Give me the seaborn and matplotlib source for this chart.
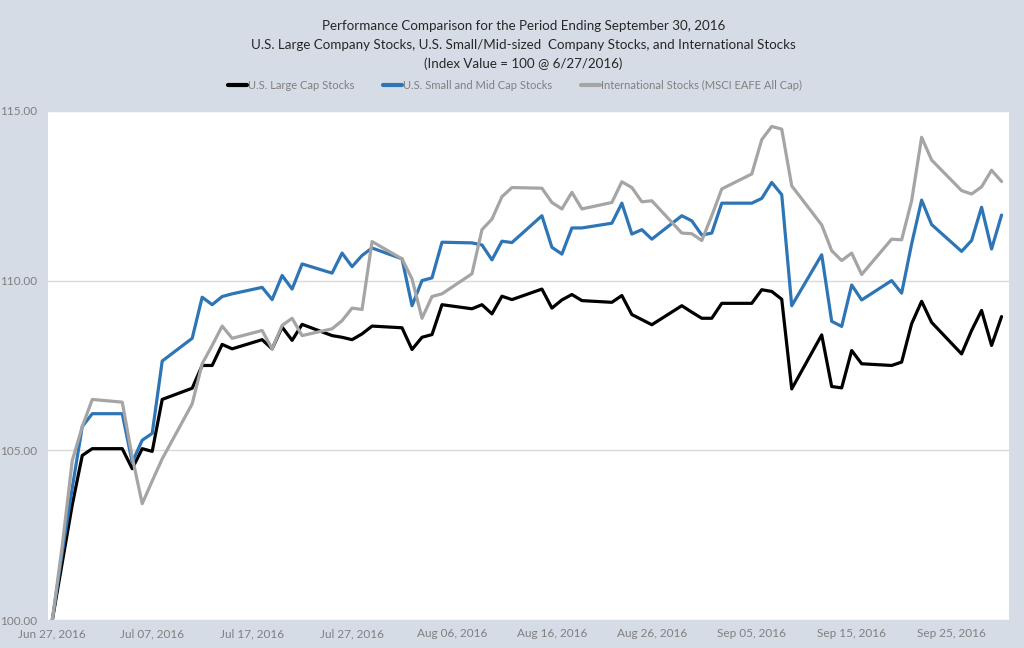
import numpy as np
import pandas as pd
import seaborn as sns
import matplotlib.pyplot as plt
import matplotlib.dates as mdates

# trading weekdays, holidays carry the previous value
dates = pd.bdate_range('2016-06-27', '2016-09-30')

large_cap = [100.0, 101.7, 103.4, 104.85, 105.05,
             105.05, 104.46, 105.05, 104.97, 106.5,
             106.83, 107.5, 107.5, 108.12, 107.99,
             108.26, 107.99, 108.63, 108.24, 108.71,
             108.38, 108.33, 108.26, 108.43, 108.66,
             108.61, 107.97, 108.33, 108.41, 109.29,
             109.17, 109.29, 109.02, 109.54, 109.44,
             109.75, 109.19, 109.43, 109.59, 109.41,
             109.36, 109.56, 109.0, 108.85, 108.7,
             109.26, 109.07, 108.89, 108.89, 109.33,
             109.33, 109.73, 109.68, 109.45, 106.81,
             108.4, 106.88, 106.84, 107.94, 107.55,
             107.5, 107.6, 108.73, 109.39, 108.77,
             107.84, 108.53, 109.12, 108.09, 108.94]

small_mid = [100.0, 102.0, 103.9, 105.7, 106.08,
             106.08, 104.65, 105.3, 105.5, 107.63,
             108.3, 109.51, 109.29, 109.53, 109.61,
             109.8, 109.44, 110.15, 109.75, 110.49,
             110.22, 110.81, 110.41, 110.74, 110.96,
             110.64, 109.26, 110.0, 110.08, 111.13,
             111.11, 111.05, 110.61, 111.16, 111.12,
             111.91, 110.98, 110.78, 111.55, 111.55,
             111.69, 112.28, 111.37, 111.5, 111.22,
             111.91, 111.76, 111.34, 111.4, 112.28,
             112.28, 112.42, 112.89, 112.53, 109.26,
             110.76, 108.8, 108.65, 109.87, 109.43,
             110.0, 109.63, 111.08, 112.37, 111.65,
             110.86, 111.18, 112.16, 110.93, 111.93]

intl = [100.0, 102.2, 104.7, 105.7, 106.5,
        106.42, 104.8, 103.43, 104.1, 104.75,
        106.37, 107.55, 108.09, 108.66, 108.3,
        108.53, 107.99, 108.68, 108.89, 108.38,
        108.58, 108.82, 109.19, 109.15, 111.15,
        110.64, 110.05, 108.89, 109.53, 109.61,
        110.2, 111.5, 111.81, 112.47, 112.74,
        112.72, 112.3, 112.11, 112.6, 112.11,
        112.3, 112.91, 112.74, 112.32, 112.35,
        111.4, 111.38, 111.18, 111.91, 112.7,
        113.14, 114.15, 114.54, 114.46, 112.79,
        111.64, 110.88, 110.59, 110.81, 110.18,
        111.22, 111.2, 112.35, 114.22, 113.55,
        112.65, 112.55, 112.76, 113.25, 112.92]

names = ['U.S. Large Cap Stocks', 'U.S. Small and Mid Cap Stocks',
         'International Stocks (MSCI EAFE All Cap)']
colors = ['#000000', '#2e75b6', '#a5a5a5']

title_lines = ['Performance Comparison for the Period Ending September 30, 2016',
               'U.S. Large Company Stocks, U.S. Small/Mid-sized  Company Stocks, and International Stocks',
               '(Index Value = 100 @ 6/27/2016)']

df = pd.DataFrame({'date': dates, names[0]: large_cap,
                   names[1]: small_mid, names[2]: intl})
long_df = df.melt(id_vars='date', var_name='series', value_name='value')

sns.set_theme(style='white')
plt.rcParams['font.family'] = ['Lato', 'DejaVu Sans']

bg = '#d6dce5'
fig = plt.figure(figsize=(10.24, 6.48), dpi=100, facecolor=bg)
ax = fig.add_axes([0.047, 0.043, 0.938, 0.786])
ax.set_facecolor('white')

sns.lineplot(data=long_df, x='date', y='value', hue='series', hue_order=names,
             palette=colors, linewidth=2.3, ax=ax, legend=False)

ax.set_ylim(100, 115)
ax.set_yticks([100, 105, 110, 115])
ax.yaxis.set_major_formatter(plt.FuncFormatter(lambda v, p: f'{v:.2f}'))
ax.set_xlim(pd.Timestamp('2016-06-26 14:00'), pd.Timestamp('2016-09-30 17:00'))
ax.set_xticks(pd.date_range('2016-06-27', periods=10, freq='10D'))
ax.xaxis.set_major_formatter(mdates.DateFormatter('%b %d, %Y'))
ax.tick_params(axis='both', length=0, labelsize=8.5, colors='#7f7f7f')
ax.tick_params(axis='y', pad=8)
ax.tick_params(axis='x', pad=6)
ax.grid(axis='y', color='#d9d9d9', linewidth=1)
ax.grid(axis='x', visible=False)
for s in ax.spines.values():
    s.set_visible(False)
ax.set_xlabel('')
ax.set_ylabel('')

# title, one line at a time
for i, line in enumerate(title_lines):
    fig.text(0.511, 1 - (26 + 19 * i) / 648, line, ha='center', va='center',
             fontsize=9.6, color='#262626')

handles = [plt.Line2D([], [], color=c, linewidth=3) for c in colors]
fig.legend(handles, names, loc='center', bbox_to_anchor=(0.503, 0.868), ncol=3,
           frameon=False, fontsize=8, labelcolor='#7f7f7f', handlelength=1.7,
           handletextpad=0.1, columnspacing=2.6)

fig.savefig('out.png', dpi=100, facecolor=bg)
